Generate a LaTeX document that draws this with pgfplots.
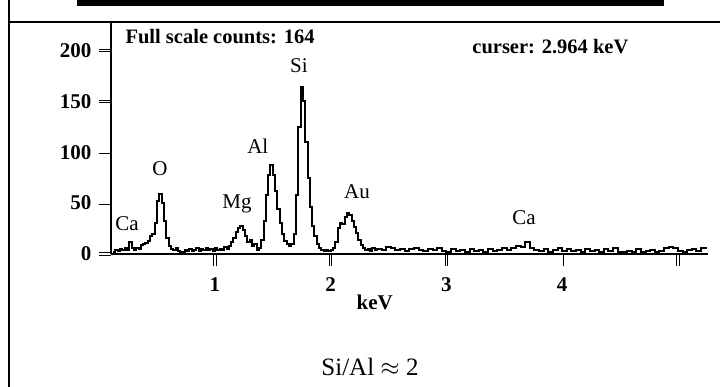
\documentclass[border=0pt]{standalone}
\usepackage{fontspec}
\setmainfont{Liberation Serif}
\usepackage{pgfplots}
\pgfplotsset{compat=1.18}

\pgfplotstableread{
kev counts
0.12 2
0.14 4
0.16 3
0.18 5
0.20 4
0.22 6
0.24 4
0.26 12
0.28 6
0.30 4
0.32 6
0.34 5
0.36 9
0.38 10
0.40 11
0.42 13
0.44 18
0.46 20
0.48 30
0.50 52
0.52 59
0.54 50
0.56 32
0.58 16
0.60 8
0.62 5
0.64 4
0.66 6
0.68 3
0.70 2
0.72 2
0.74 4
0.76 3
0.78 5
0.80 3
0.82 4
0.84 6
0.86 3
0.88 5
0.90 4
0.92 6
0.94 4
0.96 5
0.98 3
1.00 6
1.02 4
1.04 5
1.06 4
1.08 7
1.10 5
1.12 8
1.14 12
1.16 16
1.18 22
1.20 26
1.22 28
1.24 24
1.26 18
1.28 12
1.30 14
1.32 8
1.34 10
1.36 4
1.38 6
1.40 14
1.42 32
1.44 58
1.46 78
1.48 87
1.50 78
1.52 62
1.54 44
1.56 30
1.58 20
1.60 13
1.62 10
1.64 8
1.66 10
1.68 20
1.70 58
1.72 125
1.74 164
1.76 150
1.78 110
1.80 75
1.82 46
1.84 28
1.86 18
1.88 10
1.90 6
1.92 4
1.94 3
1.96 4
1.98 3
2.00 4
2.02 6
2.04 12
2.06 26
2.08 30
2.10 29
2.12 36
2.14 40
2.16 38
2.18 32
2.20 27
2.22 21
2.24 14
2.26 9
2.28 6
2.30 4
2.32 5
2.34 3
2.36 6
2.38 4
2.40 5
2.44 4
2.48 7
2.52 6
2.56 4
2.60 5
2.64 3
2.68 5
2.72 6
2.76 4
2.80 3
2.84 5
2.88 4
2.92 6
2.96 3
3.00 2
3.04 5
3.08 3
3.12 4
3.16 2
3.20 5
3.24 3
3.28 4
3.32 2
3.36 5
3.40 3
3.44 4
3.48 6
3.52 4
3.56 6
3.60 8
3.64 7
3.68 12
3.72 6
3.76 4
3.80 3
3.84 5
3.88 2
3.92 4
3.96 6
4.00 3
4.04 5
4.08 3
4.12 4
4.16 2
4.20 5
4.24 3
4.28 4
4.32 2
4.36 5
4.40 3
4.44 6
4.48 2
4.52 2
4.56 3
4.60 2
4.64 5
4.68 2
4.72 3
4.76 4
4.80 2
4.84 3
4.88 6
4.92 7
4.96 6
5.00 3
5.04 2
5.08 4
5.12 5
5.16 3
5.20 6
5.24 5
}\spectrum

\begin{document}
\begin{tikzpicture}[x=1pt,y=1pt]
\useasboundingbox (0,0) rectangle (720,387);
% frame bits
\fill[black] (77,381) rectangle (664,387);
\draw[line width=2pt] (9,0) -- (9,387);
\draw[line width=2pt] (9,365) -- (720,365);

\begin{axis}[
    at={(111pt,133pt)}, anchor=south west,
    scale only axis,
    width=597pt, height=232pt,
    xmin=0.102, xmax=5.26,
    ymin=0, ymax=228,
    axis x line*=bottom, axis y line*=left,
    axis line style={line width=2.2pt},
    xtick={1,2,3,4,5}, xticklabels={1,2,3,4,{}},
    ytick={0,50,100,150,200},
    tick align=outside,
    major tick length=12pt,
    major tick style={black, line width=0.8pt, double=white, double distance=1.6pt},
    tick label style={font=\fontsize{21}{24}\selectfont\bfseries},
    yticklabel style={xshift=-4pt},
    xticklabel style={yshift=-8pt},
    /pgf/number format/assume math mode=true,
    clip=false,
]
\addplot[const plot, black, line width=2pt, mark=none] table[x=kev, y=counts] {\spectrum};

\node[anchor=west, font=\fontsize{20.5}{24}\selectfont\bfseries] at (axis cs:0.197,214) {Full scale counts: 164};
\node[anchor=west, font=\fontsize{20.5}{24}\selectfont\bfseries] at (axis cs:3.194,204) {curser: 2.964 keV};

\begin{scope}[every node/.style={font=\fontsize{21}{24}\selectfont}]
\node at (axis cs:1.726,185) {Si};
\node at (axis cs:1.37,106) {Al};
\node at (axis cs:0.525,84) {O};
\node at (axis cs:1.19,49) {Mg};
\node at (axis cs:2.227,61) {Au};
\node at (axis cs:0.24,30) {Ca};
\node at (axis cs:3.67,36) {Ca};
\node[font=\fontsize{21}{24}\selectfont\bfseries] at (axis cs:2.38,-48) {keV};
\end{scope}
\end{axis}

\node[font=\fontsize{25}{30}\selectfont] at (370,20) {Si/Al $\approx$ 2};
\end{tikzpicture}
\end{document}
